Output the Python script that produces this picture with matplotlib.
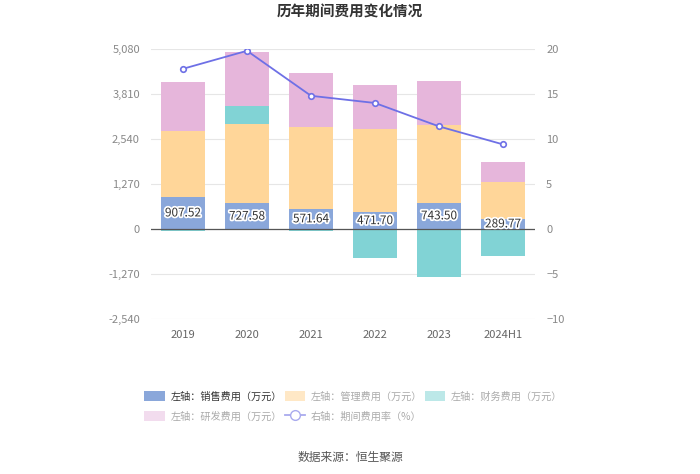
import matplotlib
matplotlib.use("Agg")
import matplotlib.pyplot as plt
import matplotlib.patheffects as pe
from matplotlib.patches import Patch
from matplotlib.lines import Line2D
import numpy as np

plt.rcParams['font.family'] = ['Noto Sans CJK SC', 'DejaVu Sans']

categories = ["2019", "2020", "2021", "2022", "2023", "2024H1"]
sales = [907.52, 727.58, 571.64, 471.70, 743.50, 289.77]
mgmt = [1858, 2244, 2298, 2359, 2191, 1036]
finance = [-60, 499, -70, -828, -1355, -771]
rnd = [1374, 1516, 1524, 1233, 1242, 565]
rate = [17.8, 19.8, 14.8, 14.0, 11.4, 9.4]

left_ticks = [-2540, -1270, 0, 1270, 2540, 3810, 5080]
right_ticks = [-10, -5, 0, 5, 10, 15, 20]

c_sales = '#8AA7DA'
c_mgmt = '#FFD699'
c_fin = '#81D3D5'
c_rnd = '#E6B6DB'
c_line = '#6E70E6'

fig = plt.figure(figsize=(7, 4.74), dpi=100)
ax = fig.add_axes([151/700, 1-319/474, 384/700, 270/474])
ax2 = ax.twinx()

x = np.arange(len(categories))
w = 0.68
sales_a = np.array(sales, float)
mgmt_a = np.array(mgmt, float)
fin_a = np.array(finance, float)
rnd_a = np.array(rnd, float)

pos_base = np.zeros(len(x))
neg_base = np.zeros(len(x))

def stack(vals, color):
    global pos_base, neg_base
    bottoms = np.where(vals >= 0, pos_base, neg_base)
    ax.bar(x, vals, w, bottom=bottoms, color=color, zorder=2, linewidth=0)
    pos_base = pos_base + np.where(vals >= 0, vals, 0)
    neg_base = neg_base + np.where(vals < 0, vals, 0)

stack(sales_a, c_sales)
stack(mgmt_a, c_mgmt)
stack(fin_a, c_fin)
stack(rnd_a, c_rnd)

for xi, v in zip(x, sales):
    ax.text(xi, v / 2, f"{v:.2f}", ha='center', va='center', fontsize=8.5,
            color='#333333', zorder=5,
            path_effects=[pe.withStroke(linewidth=2.5, foreground='white')])

ax.set_ylim(-2540, 5080)
ax.set_yticks(left_ticks)
ax.set_yticklabels([f"{t:,}" for t in left_ticks])
ax.set_xlim(-0.5, len(x) - 0.5)
ax.set_xticks(x)
ax.set_xticklabels(categories)
ax.grid(axis='y', color='#E6E6E6', linewidth=0.8, zorder=0)
ax.set_axisbelow(True)
ax.axhline(0, color='#555555', linewidth=0.9, zorder=3)
for s in ax.spines.values():
    s.set_visible(False)
ax.tick_params(axis='y', length=0, labelsize=8, colors='#888888', pad=8)
ax.tick_params(axis='x', length=0, labelsize=8, colors='#666666', pad=8)

ax2.plot(x, rate, color=c_line, linewidth=1.3, marker='o', markersize=4,
         markerfacecolor='white', markeredgecolor=c_line, markeredgewidth=1.2, zorder=6)
ax2.set_ylim(-10, 20)
ax2.set_yticks(right_ticks)
for s in ax2.spines.values():
    s.set_visible(False)
ax2.tick_params(axis='y', length=0, labelsize=8, colors='#888888', pad=8)

fig.text(0.5, 1 - 12/474, "历年期间费用变化情况", ha='center', va='center',
         fontsize=10.5, fontweight='bold', color='#333333')

handles = [
    Patch(facecolor=c_sales, edgecolor='none'),
    Patch(facecolor='#F2DCEE', edgecolor='none'),
    Patch(facecolor='#FFE8C6', edgecolor='none'),
    Line2D([0], [0], color='#A9AAEE', marker='o', markerfacecolor='white',
           markeredgecolor='#A9AAEE', markersize=7, linewidth=1.3),
    Patch(facecolor='#BCE8E8', edgecolor='none'),
]
labels = ["左轴：销售费用（万元）", "左轴：研发费用（万元）", "左轴：管理费用（万元）",
          "右轴：期间费用率（%）", "左轴：财务费用（万元）"]
leg = fig.legend(handles, labels, ncol=3, loc='center', bbox_to_anchor=(0.505, 1 - 406.5/474),
                 frameon=False, fontsize=7.3, handlelength=2.0, handleheight=1.1,
                 columnspacing=0.25, labelspacing=0.95, handletextpad=0.6)
for i, t in enumerate(leg.get_texts()):
    t.set_color('#333333' if i == 0 else '#AAAAAA')

fig.text(0.5, 1 - 457/474, "数据来源：恒生聚源", ha='center', va='center',
         fontsize=8.5, color='#555555')

fig.savefig("out.png", dpi=100)
